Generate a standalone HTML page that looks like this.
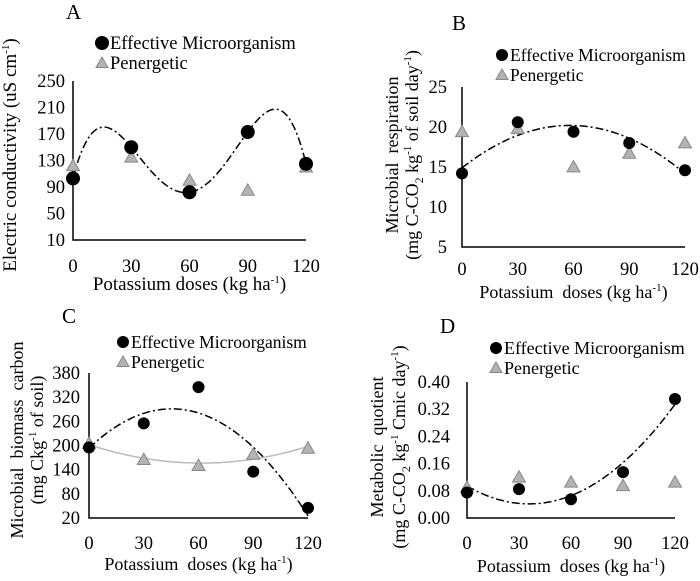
<!DOCTYPE html>
<html><head><meta charset="utf-8"><style>
body{margin:0;background:#fff;}
svg, svg text{font-family:"Liberation Serif","Times New Roman",serif !important;}
</style></head><body>
<svg id="chart" width="700" height="576" viewBox="0 0 700 576" xmlns="http://www.w3.org/2000/svg" font-family="Liberation Serif, serif"></svg>
<script>
const doses = [0, 30, 60, 90, 120];
const emA = [103, 150, 82, 173, 125];
const penA = [122, 135, 100, 85, 120];
const ticksA = [10, 50, 90, 130, 170, 210, 250];
const emB = [14.2, 20.6, 19.4, 18, 14.6];
const penB = [19.4, 19.8, 15, 16.7, 18];
const ticksB = [5, 10, 15, 20, 25];
const emC = [195, 255, 345, 135, 45];
const penC = [205, 165, 150, 178, 193];
const ticksC = [20, 80, 140, 200, 260, 320, 380];
const emD = [0.075, 0.085, 0.055, 0.135, 0.35];
const penD = [0.09, 0.12, 0.105, 0.095, 0.105];
const ticksD = [0.00, 0.08, 0.16, 0.24, 0.32, 0.40];

const NS = "http://www.w3.org/2000/svg";
const svg = document.getElementById('chart');
function mk(tag, attrs, parent){const e=document.createElementNS(NS,tag);for(const k in attrs)e.setAttribute(k,attrs[k]);if(tag==='text')e.setAttribute('font-family','Liberation Serif, serif');(parent||svg).appendChild(e);return e;}

function polyfit(xs, ys, deg){
  const n=deg+1, A=[], b=[];
  for(let i=0;i<n;i++){A.push(new Array(n).fill(0));b.push(0);}
  xs.forEach((x0,k)=>{const x=x0/120;for(let i=0;i<n;i++){b[i]+=ys[k]*Math.pow(x,i);for(let j=0;j<n;j++)A[i][j]+=Math.pow(x,i+j);}});
  for(let i=0;i<n;i++){let p=i;for(let r=i+1;r<n;r++)if(Math.abs(A[r][i])>Math.abs(A[p][i]))p=r;
    [A[i],A[p]]=[A[p],A[i]];[b[i],b[p]]=[b[p],b[i]];
    for(let r=0;r<n;r++){if(r===i)continue;const f=A[r][i]/A[i][i];for(let c=i;c<n;c++)A[r][c]-=f*A[i][c];b[r]-=f*b[i];}}
  const co=b.map((v,i)=>v/A[i][i]);
  return x=>co.reduce((s,c,i)=>s+c*Math.pow(x/120,i),0);
}

function panel(o){
  const g=mk('g',{});
  
  
  const xs=v=>o.x0+(v-0)/120*(o.x1-o.x0);
  const ys=v=>o.yb-(v-o.tmin)/(o.tmax-o.tmin)*(o.yb-o.yt);
  const lab=mk('text',{x:o.lx,y:o.ly,'font-size':21},g);lab.textContent=o.id;
  
  const ax=mk('path',{d:`M${o.x0} ${o.yt}V${o.yb}H${o.x1}`,stroke:'#000','stroke-width':1.5,fill:'none'},g);
  
  o.ticks.forEach(t=>{const e=mk('text',{x:o.tx,y:ys(t)+6,'font-size':o.fs,'text-anchor':'end'},g);
    e.textContent=o.fmt?t.toFixed(2):t;
    });
  doses.forEach(d=>{const e=mk('text',{x:xs(d),y:o.xly,'font-size':o.fs,'text-anchor':'middle'},g);e.textContent=d;
    });
  const xt=mk('text',{x:(o.x0+o.x1)/2,y:o.xty,'font-size':o.tfs,'text-anchor':'middle'},g);
  xt.innerHTML=o.xtitle;
  
  o.ytitle.forEach((ln,i)=>{const e=mk('text',{transform:`translate(${ln.x},${o.ycy}) rotate(-90)`,'font-size':o.tfs,'text-anchor':'middle'},g);
    e.innerHTML=ln.t;});
  o.curves.forEach(cv=>{const f=polyfit(doses,cv.data,cv.deg);let d='';
    for(let x=0;x<=120;x+=1){d+=(x?'L':'M')+xs(x).toFixed(1)+' '+ys(f(x)).toFixed(1);}
    const p=mk('path',{d,fill:'none',stroke:cv.color,'stroke-width':1.5,'stroke-dasharray':cv.dash||'none'},g);
    });
  o.pen.forEach((v,i)=>{const cx=xs(doses[i]),cy=ys(v),s=o.tri;
    const t=mk('path',{d:`M${cx} ${cy-s}L${cx+s} ${cy+s*0.75}L${cx-s} ${cy+s*0.75}Z`,fill:'#b3b3b3',stroke:'#888','stroke-width':1},g);
    });
  o.em.forEach((v,i)=>{const c=mk('circle',{cx:xs(doses[i]),cy:ys(v),r:o.r,fill:'#000'},g);
    });
  const lc=mk('circle',{cx:o.legx,cy:o.legy,r:o.r},g);
  
  const l1=mk('text',{x:o.legx+8,y:o.legy+6,'font-size':o.lfs},g);l1.textContent='Effective Microorganism';
  
  const ty=o.legy+20,s=6;
  const lt=mk('path',{d:`M${o.legx} ${ty-s}L${o.legx+s} ${ty+s*0.75}L${o.legx-s} ${ty+s*0.75}Z`,fill:'#b3b3b3',stroke:'#888'},g);
  
  const l2=mk('text',{x:o.legx+8,y:ty+6,'font-size':o.lfs},g);l2.textContent='Penergetic';
  
}
const sup=s=>`<tspan dy="-7" font-size="11">${s}</tspan><tspan dy="7">`;
const sub=s=>`<tspan dy="5" font-size="12">${s}</tspan><tspan dy="-5">`;
const xtA='Potassium doses (kg ha'+sup('-1')+')</tspan>';
const xtB='Potassium&#160; doses (kg ha'+sup('-1')+')</tspan>';

panel({id:'A',x0:73,x1:306,yt:81,yb:240,tmin:10,tmax:250,ticks:ticksA,tx:65,xly:272,xty:290,lx:66,ly:19,fs:18.5,tfs:19,xtitle:xtA,
  ytitle:[{x:16,t:'Electric conductivity (uS cm'+sup('-1')+')</tspan>'}],ycy:155,
  em:emA,pen:penA,r:7,tri:6.5,legx:102,legy:43,lfs:18.5,
  curves:[{data:emA,deg:4,color:'#000',dash:'8 3 2 3'}]});
panel({id:'B',x0:462,x1:685,yt:87,yb:247,tmin:5,tmax:25,ticks:ticksB,tx:447,xly:275,xty:298,lx:452,ly:30,fs:18.5,tfs:18,xtitle:xtB,
  ytitle:[{x:398,t:'Microbial&#160; respiration'},{x:418,t:'(mg C-CO'+sub('2')+' kg'+sup('-1')+' of soil day'+sup('-1')+')</tspan></tspan></tspan>'}],ycy:155,
  em:emB,pen:penB,r:6,tri:6.5,legx:502,legy:55,lfs:17.5,
  curves:[{data:emB,deg:2,color:'#000',dash:'8 3 2 3'}]});
panel({id:'C',x0:89,x1:308,yt:373,yb:518,tmin:20,tmax:380,ticks:ticksC,tx:80,xly:549,xty:570,lx:62,ly:323,fs:18.5,tfs:18,xtitle:xtB,
  ytitle:[{x:23,t:'Microbial&#160; biomass&#160; carbon'},{x:43,t:'(mg Ckg'+sup('-1')+' of soil)</tspan>'}],ycy:440,
  em:emC,pen:penC,r:6,tri:6.5,legx:123,legy:342,lfs:17.5,
  curves:[{data:emC,deg:2,color:'#000',dash:'8 3 2 3'},{data:penC,deg:2,color:'#bbb'}]});
panel({id:'D',x0:467,x1:675,yt:382,yb:518,tmin:0,tmax:0.40,ticks:ticksD,tx:450,xly:549,xty:572,lx:440,ly:333,fs:18.5,tfs:18,fmt:true,xtitle:xtB,
  ytitle:[{x:383,t:'Metabolic&#160; quotient'},{x:405,t:'(mg C-CO'+sub('2')+' kg'+sup('-1')+' Cmic day'+sup('-1')+')</tspan></tspan></tspan>'}],ycy:447,
  em:emD,pen:penD,r:6,tri:6.5,legx:496,legy:348,lfs:18,
  curves:[{data:emD,deg:2,color:'#000',dash:'8 3 2 3'}]});
</script>
</body></html>
